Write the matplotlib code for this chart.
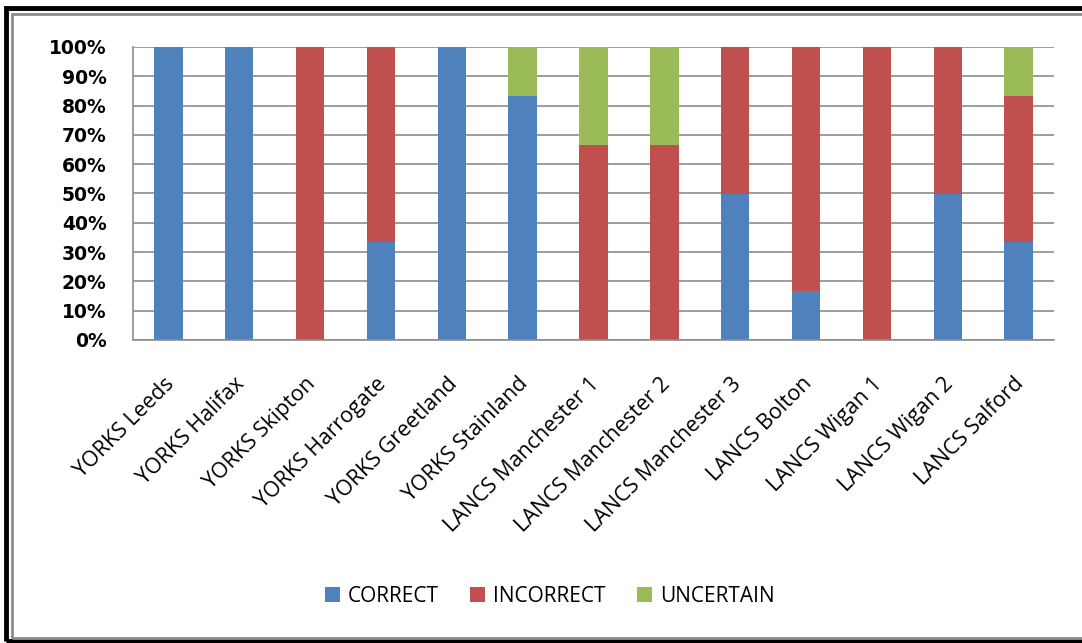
import numpy as np
import matplotlib
matplotlib.use('Agg')
import matplotlib.pyplot as plt
from matplotlib.patches import Rectangle
from matplotlib.ticker import PercentFormatter
from matplotlib.transforms import ScaledTranslation

# Datos (porcentaje de cada categoría por sitio)
sitios = ['YORKS Leeds', 'YORKS Halifax', 'YORKS Skipton', 'YORKS Harrogate',
          'YORKS Greetland', 'YORKS Stainland', 'LANCS Manchester 1',
          'LANCS Manchester 2', 'LANCS Manchester 3', 'LANCS Bolton',
          'LANCS Wigan 1', 'LANCS Wigan 2', 'LANCS Salford']
correct = [100, 100, 0, 33.3, 100, 83.3, 0, 0, 50, 16.7, 0, 50, 33.3]
incorrect = [0, 0, 100, 66.7, 0, 0, 66.7, 66.7, 50, 83.3, 100, 50, 50]
uncertain = [0, 0, 0, 0, 0, 16.7, 33.3, 33.3, 0, 0, 0, 0, 16.7]

series = ['CORRECT', 'INCORRECT', 'UNCERTAIN']
colores = ['#4F81BD', '#C0504D', '#9BBB59']

fig = plt.figure(figsize=(10.82, 6.43), dpi=100)
ax = fig.add_axes([133 / 1082, 1 - 340 / 643, (1054 - 133) / 1082, (340 - 47) / 643])

x = np.arange(len(sitios))
bottom = np.zeros(len(sitios))
for nombre, vals, col in zip(series, [correct, incorrect, uncertain], colores):
    ax.bar(x, vals, width=0.4, bottom=bottom, color=col, label=nombre, zorder=2)
    bottom += np.array(vals)

ax.set_xlim(-0.5, len(sitios) - 0.5)
ax.set_ylim(0, 100)
ax.set_yticks(np.arange(0, 101, 10))
ax.yaxis.set_major_formatter(PercentFormatter(decimals=0))
ax.grid(axis='y', color='#8c8c8c', linewidth=1.2, zorder=0)
for s in ['top', 'right']:
    ax.spines[s].set_visible(False)
for s in ['left', 'bottom']:
    ax.spines[s].set_color('#8c8c8c')
    ax.spines[s].set_linewidth(1.2)
ax.tick_params(axis='both', length=0)
ax.tick_params(axis='y', pad=19)
for lbl in ax.get_yticklabels():
    lbl.set_fontsize(13.5)
    lbl.set_fontweight('bold')
    lbl.set_family('DejaVu Sans')

ax.set_xticks(x)
ax.set_xticklabels(sitios, rotation=45, ha='right', va='top', rotation_mode='anchor',
                   fontsize=15.5, family='Open Sans')
ax.tick_params(axis='x', pad=24)
# Desplazar las etiquetas un poco a la izquierda
desplaza = ScaledTranslation(-5 / 100, 0, fig.dpi_scale_trans)
for lbl in ax.get_xticklabels():
    lbl.set_transform(lbl.get_transform() + desplaza)

fig.legend(loc='center', bbox_to_anchor=(550 / 1082, 1 - 596 / 643), ncol=3,
           frameon=False, handlelength=0.7, handleheight=0.7,
           columnspacing=1.5, handletextpad=0.4, prop={'family': 'Open Sans', 'size': 15})

# Marco exterior tipo Excel (el borde derecho queda fuera de la imagen)
fig.patches.append(Rectangle((6 / 1082, 2 / 643), 1.2, 1 - 10 / 643, transform=fig.transFigure,
                             fill=False, edgecolor='black', linewidth=3.5))
fig.patches.append(Rectangle((11.5 / 1082, 5.5 / 643), 1.2, 1 - 19 / 643, transform=fig.transFigure,
                             fill=False, edgecolor='#8c8c8c', linewidth=2))

fig.savefig('out.png', dpi=100)
